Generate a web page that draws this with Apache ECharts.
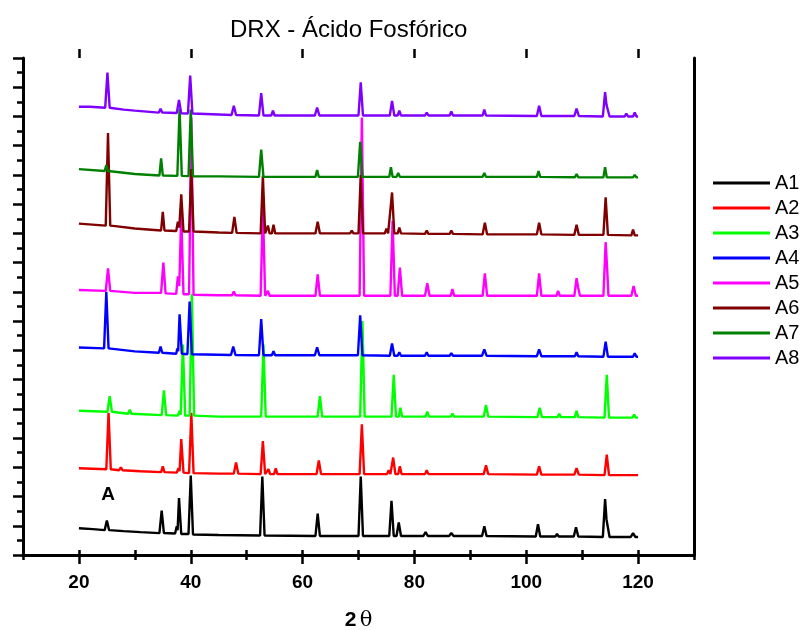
<!DOCTYPE html>
<html>
<head>
	<meta charset="utf-8">
	<title>DRX - Ácido Fosfórico</title>
	<script src="https://cdn.jsdelivr.net/npm/echarts@6/dist/echarts.min.js"></script>
	<style>
		html, body { margin: 0; padding: 0; background: #fff; }
		#main { width: 806px; height: 630px; }
	</style>
</head>
<body>
	<div id="main"></div>
	<script>
		// nombres de las muestras
		var names = ['A1', 'A2', 'A3', 'A4', 'A5', 'A6', 'A7', 'A8'];
		var colors = ['#000000', '#ff0000', '#00ff00', '#0000ff', '#ff00ff', '#800000', '#008000', '#8000ff'];
		// desplazamiento vertical de cada difractograma (u.a.)
		var offsets = [19.5, 83, 142, 205, 266, 330, 388, 451];

		var xTicks = [20, 40, 60, 80, 100, 120];
		var yMajor = [0, 30, 60, 90, 120, 150, 180, 210, 240, 270, 300, 330, 360, 390, 420, 450, 480, 510];

		// [2θ, intensidad]
		var A1 = [[20,8],[22.5,7],[24.6,6],[25.0,16],[25.4,6],[28,5],[31,4],[34.4,3],[34.8,26],[35.2,3],[37.2,2.5],[37.5,10],[37.65,6],[37.9,39],[38.3,2],[39.6,2],[40.0,62],[40.4,1.5],[45,1],[52.4,0.5],[52.8,61],[53.2,0.5],[62.3,0],[62.7,23],[63.1,0],[70.0,0],[70.4,61],[70.8,0],[75.5,0],[75.9,36],[76.3,0],[76.8,0],[77.2,14],[77.6,0],[81.6,0],[82.0,4],[82.4,0],[86.2,0],[86.6,3],[87.0,0],[92.1,0],[92.5,10],[92.9,0],[101.7,-0.5],[102.1,12],[102.5,-0.5],[105.2,-0.5],[105.5,2],[105.8,-0.5],[108.5,-0.5],[108.9,9],[109.3,-0.5],[113.7,-1],[114.1,38],[114.35,17],[114.55,18],[114.9,-1],[118.7,-1],[119.1,3],[119.5,-1],[120,-1]];
		var A2 = [[20,6],[24.9,5],[25.3,63],[25.7,5],[27.2,4],[27.5,7],[27.8,4],[31,3],[34.7,2],[35.0,8],[35.3,2],[37.5,1.5],[37.8,6],[38.0,3],[38.3,36],[38.7,1.5],[39.7,1],[40.1,63],[40.5,1],[45,0.5],[47.7,0.5],[48.1,12],[48.5,0.5],[52.5,0],[52.9,34],[53.3,0],[53.6,0],[53.9,5],[54.2,0],[54.9,0],[55.2,6],[55.5,0],[62.5,0],[62.9,14],[63.3,0],[70.2,0],[70.6,51],[71.0,0],[75.1,0],[75.4,4],[75.7,0],[75.8,0],[76.2,17],[76.6,0],[77.1,0],[77.4,8],[77.7,0],[81.9,0],[82.2,4],[82.5,0],[86.4,0],[86.7,2],[87.0,0],[92.4,0],[92.8,9],[93.2,0],[101.9,-0.5],[102.3,8],[102.7,-0.5],[108.6,-0.5],[109.0,6],[109.4,-0.5],[114.0,-1],[114.4,20],[114.8,-1],[120,-1]];
		var A3 = [[20,6],[25.1,5],[25.5,21],[25.9,5],[28.8,3],[29.1,7],[29.4,3],[34.8,1.5],[35.2,27],[35.6,1.5],[37.7,1],[38.0,6],[38.2,2],[38.6,74],[39.0,1],[39.8,1],[40.2,126],[40.6,1],[45,0],[52.6,0],[53.0,74],[53.4,0],[62.7,0],[63.1,21],[63.5,0],[70.3,0],[70.7,98],[71.1,0],[75.9,0],[76.3,43],[76.7,0],[77.2,0],[77.5,9],[77.8,0],[82.0,0],[82.3,5],[82.6,0],[86.5,0],[86.8,3],[87.1,0],[92.4,0],[92.8,12],[93.2,0],[102.0,-0.5],[102.4,9],[102.8,-0.5],[105.6,-0.5],[105.9,3],[106.2,-0.5],[108.7,-0.5],[109.0,6],[109.3,-0.5],[114.0,-1],[114.4,43],[114.8,-1],[119.0,-1],[119.3,2],[119.6,-1],[120,-1]];
		var A4 = [[20,8],[24.5,7],[24.9,65],[25.3,7],[30,4],[34.3,2.5],[34.6,9],[34.9,2.5],[37.4,1.5],[37.6,7],[37.75,4],[38.0,42],[38.4,1.5],[39.4,1],[39.8,55],[40.2,1],[45,0.5],[47.2,0.3],[47.6,9],[48.0,0.3],[52.2,0],[52.6,37],[53.0,0],[54.5,0],[54.8,4],[55.1,0],[62.2,0],[62.6,8],[63.0,0],[69.9,0],[70.3,41],[70.7,0],[75.6,-0.5],[76.0,12],[76.4,-0.5],[77.0,-0.5],[77.3,3],[77.6,-0.5],[81.9,-0.5],[82.2,3],[82.5,-0.5],[86.3,-0.5],[86.6,2],[86.9,-0.5],[92.1,-0.5],[92.5,6],[92.9,-0.5],[101.9,-1],[102.3,6],[102.7,-1],[108.7,-1],[109.0,3],[109.3,-1],[113.8,-1.5],[114.2,14],[114.6,-1.5],[119.1,-1.5],[119.4,2],[119.7,-1.5],[120,-1.5]];
		var A5 = [[20,6],[24.8,5],[25.2,28],[25.6,5],[30,3],[34.7,3],[35.1,34],[35.5,2.5],[37.4,2],[37.7,20],[37.95,10],[38.3,84],[38.7,1.5],[39.7,1.5],[40.1,183],[40.5,1],[45,0.5],[47.4,0.5],[47.7,4.5],[48.0,0.5],[52.5,0],[52.9,92],[53.3,0],[53.5,0],[53.8,5],[54.1,0],[62.3,0],[62.7,22],[63.1,0],[70.2,0],[70.6,183],[71.0,0],[73.9,0],[74.2,2],[74.5,0],[75.7,0],[76.1,77],[76.5,0],[77.0,0],[77.4,29],[77.8,0],[81.9,0],[82.3,13],[82.7,0],[86.5,0],[86.8,7],[87.1,0],[92.2,0],[92.6,23],[93.0,0],[101.9,0],[102.3,23],[102.7,0],[105.4,0],[105.7,5],[106.0,0],[108.6,0],[109.0,18],[109.3,8],[109.6,0],[113.8,0],[114.2,55],[114.45,30],[114.7,0],[118.8,0],[119.2,10],[119.6,0],[120,0]];
		var A6 = [[20,10],[24.8,8],[25.2,103],[25.6,8],[26.5,7.5],[30,5],[34.7,3],[35.0,22],[35.3,3],[37.4,2.5],[37.7,12],[37.95,6],[38.3,40],[38.7,2],[39.7,2],[40.1,66],[40.5,2],[45,1],[47.4,0.5],[47.8,17],[48.2,0.5],[52.5,0],[52.9,59],[53.3,0],[53.55,0],[53.8,8],[54.1,0],[54.5,0],[54.8,9],[55.1,0],[62.3,0],[62.7,12],[63.1,0],[68.5,0],[68.8,3],[69.1,0],[70.0,0],[70.4,60],[70.8,0],[74.7,0],[75.0,5],[75.3,0],[75.6,0],[76.0,42],[76.4,0],[77.0,0],[77.3,6],[77.6,0],[81.9,-0.5],[82.2,3],[82.5,-0.5],[86.3,-0.5],[86.6,3],[86.9,-0.5],[92.2,-1],[92.6,11],[93.0,-1],[101.9,-1],[102.3,11],[102.7,-1],[108.6,-1.5],[109.0,9],[109.4,-1.5],[113.8,-1.5],[114.2,37],[114.6,-1.5],[118.8,-2],[119.1,4],[119.4,-2],[120,-2]];
		var A7 = [[20,8],[24.6,6],[24.9,12],[25.2,6],[30,3],[34.4,1.5],[34.7,19],[35.0,1.5],[37.6,1],[38.0,70],[38.4,1],[39.6,0.8],[40.0,69],[40.4,0.7],[45,0.5],[52.2,0],[52.6,28],[53.0,0],[62.3,0],[62.6,7],[62.9,0],[69.9,0],[70.3,36],[70.7,0],[73.6,0],[73.9,2],[74.2,0],[75.5,0],[75.8,10],[76.1,0],[76.8,0],[77.1,4],[77.4,0],[81.9,0],[82.2,2],[82.5,0],[86.2,0],[86.5,2],[86.8,0],[92.2,0],[92.5,4],[92.8,0],[101.9,0],[102.2,6],[102.5,0],[108.7,-0.3],[109.0,3],[109.3,-0.3],[113.8,-0.5],[114.1,10],[114.4,-0.5],[119.1,-0.5],[119.4,2],[119.7,-0.5],[120,-0.5]];
		var A8 = [[20,9],[22,9],[24.7,8],[25.1,44],[25.5,8],[28,6],[30,5],[34.3,3],[34.6,7],[34.9,3],[37.5,2.5],[37.9,16],[38.3,2.2],[39.5,2],[39.9,41],[40.3,2],[45,1],[47.3,0.5],[47.7,10],[48.1,0.5],[52.2,0],[52.6,23],[53.0,0],[54.4,0],[54.7,5],[55.0,0],[62.2,0],[62.6,8],[63.0,0],[70.0,0],[70.4,34],[70.8,0],[75.6,0],[76.0,15],[76.4,0],[77.0,0],[77.3,5],[77.6,0],[81.9,0],[82.2,3],[82.5,0],[86.3,0],[86.6,4],[86.9,0],[92.2,0],[92.5,6],[92.8,0],[101.9,-0.5],[102.3,10],[102.7,-0.5],[108.6,-0.5],[109.0,7],[109.4,-0.5],[113.7,-1],[114.1,24],[114.35,11],[114.55,12],[114.9,-1],[117.6,-1],[117.9,2],[118.2,-1],[119.1,-1],[119.4,3],[119.7,-1],[120,-1]];

		var patterns = [A1, A2, A3, A4, A5, A6, A7, A8];

		var font = 'Liberation Sans, Arial, sans-serif';
		var axisLine = { show: true, lineStyle: { color: '#000', width: 3 } };
		var tickStyle = { color: '#000', width: 2.5 };

		var series = patterns.map(function (pts, i) {
			return {
				name: names[i],
				type: 'line',
				xAxisIndex: 0,
				yAxisIndex: 0,
				showSymbol: false,
				symbol: 'none',
				color: colors[i],
				lineStyle: { width: 2.4, color: colors[i] },
				data: pts.map(function (p) { return [p[0], p[1] + offsets[i]]; })
			};
		});
		// letra "A" sobre el patrón A1
		series[0].markPoint = {
			symbol: 'circle',
			symbolSize: 0,
			label: { show: true, formatter: 'A', color: '#000', fontSize: 19, fontWeight: 'bold', fontFamily: font },
			data: [{ coord: [25.2, 62] }]
		};

		var chart = echarts.init(document.getElementById('main'));
		chart.setOption({
			animation: false,
			backgroundColor: '#fff',
			title: {
				text: 'DRX - Ácido Fosfórico',
				left: 230,
				top: 18,
				padding: 0,
				textStyle: { color: '#000', fontSize: 24, fontWeight: 'normal', fontFamily: font }
			},
			legend: {
				orient: 'vertical',
				left: 713,
				top: 173,
				padding: 0,
				icon: 'rect',
				itemWidth: 57,
				itemHeight: 3,
				itemGap: 5,
				textStyle: { color: '#000', fontSize: 20, lineHeight: 20, fontFamily: font },
				data: names
			},
			grid: { left: 23, right: 112, top: 58, bottom: 75, outerBoundsMode: 'none' },
			xAxis: [
				{
					type: 'value', position: 'bottom', min: 10, max: 130, interval: 10,
					axisLine: axisLine,
					axisTick: { show: true, length: 5, lineStyle: tickStyle },
					axisLabel: {
						margin: 18, color: '#000', fontSize: 19, fontWeight: 'bold', fontFamily: font,
						formatter: function (v) { return v % 20 === 0 && v >= 20 && v <= 120 ? v : ''; }
					},
					splitLine: { show: false },
					name: '{a|2} {b|θ}',
					nameLocation: 'middle',
					nameGap: 55,
					nameTextStyle: {
						rich: {
							a: { fontSize: 21, fontWeight: 'bold', color: '#000', fontFamily: font },
							b: { fontSize: 21, color: '#000', fontFamily: 'DejaVu Serif, serif' }
						}
					}
				},
				{
					type: 'value', position: 'bottom', min: 10, max: 130,
					axisLine: { show: false },
					axisTick: { show: true, length: 9, lineStyle: tickStyle, customValues: xTicks },
					axisLabel: { show: false },
					splitLine: { show: false }
				},
				{
					type: 'value', position: 'top', min: 10, max: 130, interval: 10,
					axisLine: axisLine,
					axisTick: { show: true, length: 5, lineStyle: tickStyle },
					axisLabel: { show: false },
					splitLine: { show: false }
				},
				{
					type: 'value', position: 'top', min: 10, max: 130,
					axisLine: { show: false },
					axisTick: { show: true, length: 9, lineStyle: tickStyle, customValues: xTicks },
					axisLabel: { show: false },
					splitLine: { show: false }
				}
			],
			yAxis: [
				{
					type: 'value', position: 'left', min: 0, max: 510, interval: 15,
					axisLine: axisLine,
					axisTick: { show: true, length: 6, lineStyle: tickStyle },
					axisLabel: { show: false },
					splitLine: { show: false }
				},
				{
					type: 'value', position: 'left', min: 0, max: 510,
					axisLine: { show: false },
					axisTick: { show: true, length: 10, lineStyle: tickStyle, customValues: yMajor },
					axisLabel: { show: false },
					splitLine: { show: false }
				},
				{
					type: 'value', position: 'right', min: 0, max: 510,
					axisLine: axisLine,
					axisTick: { show: false },
					axisLabel: { show: false },
					splitLine: { show: false }
				}
			],
			series: series
		});
	</script>
</body>
</html>
